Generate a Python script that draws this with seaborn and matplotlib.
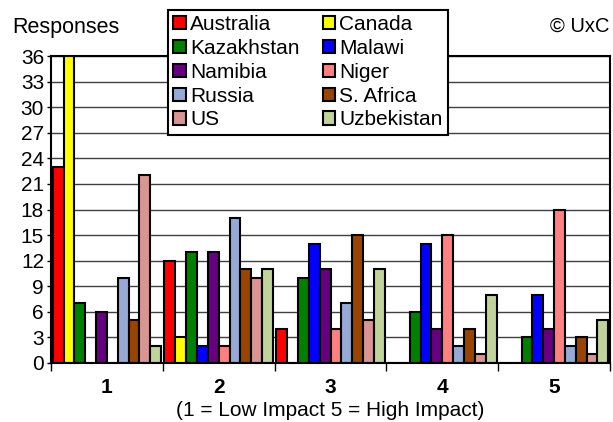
import matplotlib
matplotlib.use("Agg")
import matplotlib.pyplot as plt
import seaborn as sns
import pandas as pd
from matplotlib.patches import Patch

impacts = ["1", "2", "3", "4", "5"]
countries = ["Australia", "Canada", "Kazakhstan", "Malawi", "Namibia",
             "Niger", "Russia", "S. Africa", "US", "Uzbekistan"]
australia = [23, 12, 4, 0, 0]
canada = [36, 3, 0, 0, 0]
kazakhstan = [7, 13, 10, 6, 3]
malawi = [0, 2, 14, 14, 8]
namibia = [6, 13, 11, 4, 4]
niger = [0, 2, 4, 15, 18]
russia = [10, 17, 7, 2, 2]
s_africa = [5, 11, 15, 4, 3]
us = [22, 10, 5, 1, 1]
uzbekistan = [2, 11, 11, 8, 5]
yticks = [0, 3, 6, 9, 12, 15, 18, 21, 24, 27, 30, 33, 36]

series = [australia, canada, kazakhstan, malawi, namibia,
          niger, russia, s_africa, us, uzbekistan]
colors = ["#FF0000", "#FFFF00", "#008000", "#0000FF", "#660080",
          "#FF8080", "#95AAD5", "#994400", "#D99594", "#BFD39B"]

rows = []
for c, vals in zip(countries, series):
    for imp, v in zip(impacts, vals):
        rows.append({"impact": imp, "country": c, "value": v})
df = pd.DataFrame(rows)

sns.set_theme(style="white")
plt.rcParams["font.family"] = ["Liberation Sans", "DejaVu Sans"]
plt.rcParams["text.color"] = "black"
plt.rcParams["axes.labelcolor"] = "black"
plt.rcParams["xtick.color"] = "black"
plt.rcParams["ytick.color"] = "black"

fig = plt.figure(figsize=(6.13, 4.22), dpi=100)
ax = fig.add_axes([51 / 613, 1 - 363 / 422, 559 / 613, 307 / 422])

sns.barplot(data=df, x="impact", y="value", hue="country", order=impacts,
            hue_order=countries, palette=colors, width=0.97,
            edgecolor="black", linewidth=1.5, saturation=1, ax=ax,
            legend=False, errorbar=None)

ax.set_ylim(0, 36)
ax.set_xlim(-0.5, 4.5)
ax.set_yticks(yticks)
ax.set_yticklabels([str(t) for t in yticks], fontsize=15)
ax.yaxis.grid(True, color="#404040", linewidth=1.0)
ax.set_axisbelow(True)
for s in ax.spines.values():
    s.set_color("black")
    s.set_linewidth(1.5)
ax.tick_params(axis="y", length=3, width=1, direction="out", pad=2, left=True)
ax.set_xticks(range(5))
ax.set_xticklabels(impacts, fontsize=15, fontweight="bold")
ax.set_xticks([-0.5, 0.5, 1.5, 2.5, 3.5, 4.5], minor=True)
ax.tick_params(axis="x", which="major", length=0, pad=11)
ax.tick_params(axis="x", which="minor", length=6, width=1, direction="out", bottom=True)
ax.set_xlabel("(1 = Low Impact 5 = High Impact)", fontsize=15, labelpad=3)
ax.set_ylabel("")

# legend laid out row by row (matplotlib fills columns first)
order = [0, 2, 4, 6, 8, 1, 3, 5, 7, 9]
handles = [Patch(facecolor=colors[i], edgecolor="black", linewidth=1.5) for i in order]
labels = [countries[i] for i in order]
leg = fig.legend(handles, labels, ncol=2, loc="upper left",
                 bbox_to_anchor=(168 / 613, 1 - 10 / 422), fontsize=15,
                 frameon=True, fancybox=False, framealpha=1, edgecolor="black",
                 handlelength=0.6, handleheight=0.6, handletextpad=0.2,
                 columnspacing=1.12, labelspacing=0.23, borderpad=0.25,
                 borderaxespad=0)
leg.get_frame().set_linewidth(1.5)

fig.text(12 / 613, 1 - 27 / 422, "Responses", fontsize=15.5, va="center", ha="left")
fig.text(609 / 613, 1 - 26 / 422, "© UxC", fontsize=14.5, va="center", ha="right")

fig.savefig("out.png", dpi=100)
